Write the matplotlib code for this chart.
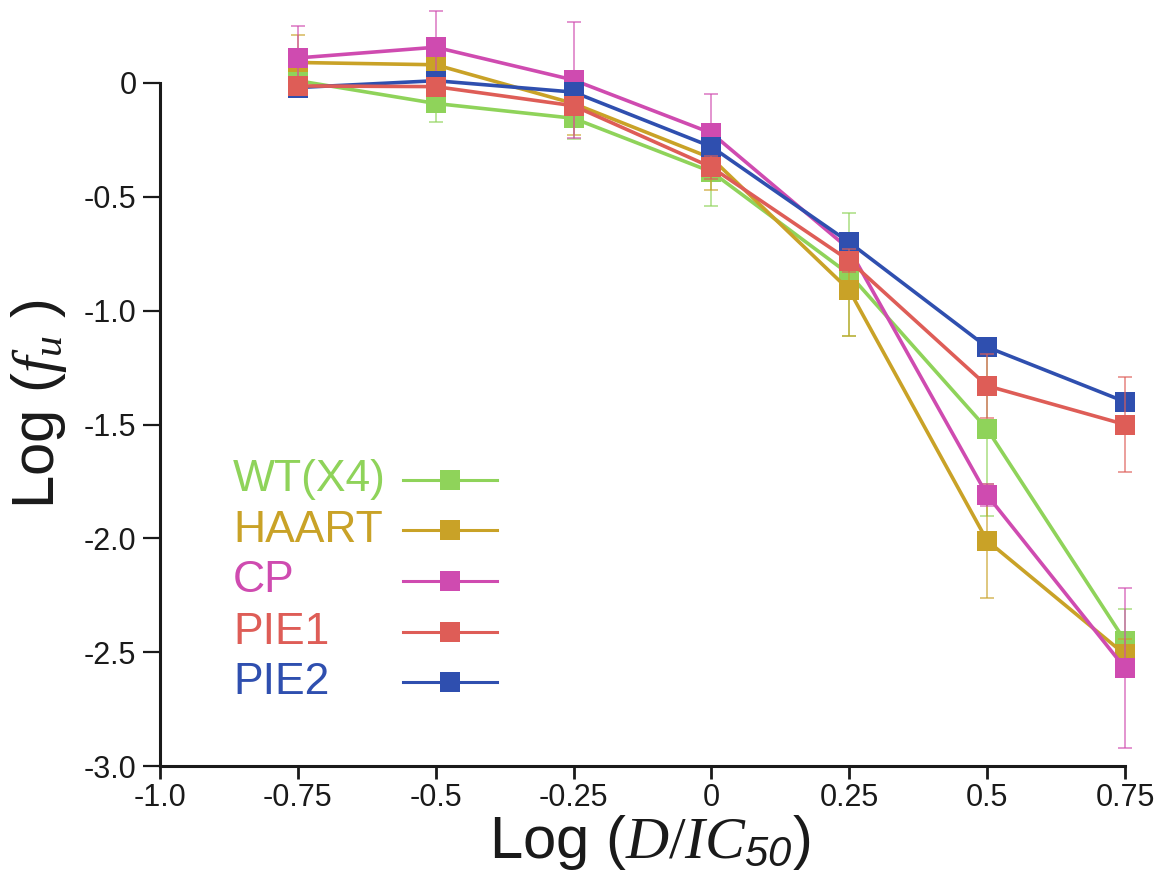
import matplotlib
matplotlib.use("Agg")
import matplotlib.pyplot as plt

plt.rcParams['font.family'] = ['Liberation Sans', 'DejaVu Sans']
plt.rcParams['mathtext.fontset'] = 'custom'
plt.rcParams['mathtext.it'] = 'Liberation Serif:italic'
plt.rcParams['mathtext.rm'] = 'Liberation Serif'
plt.rcParams['mathtext.sf'] = 'Liberation Sans:italic'
plt.rcParams['axes.unicode_minus'] = False

# Dose levels, log(D/IC50)
log_dose = [-0.75, -0.5, -0.25, 0.0, 0.25, 0.5, 0.75]

# Mean log fraction unaffected for each strain
wt_x4 = [0.01, -0.09, -0.155, -0.39, -0.84, -1.52, -2.45]
haart = [0.09, 0.08, -0.09, -0.33, -0.91, -2.01, -2.51]
cp = [0.11, 0.157, 0.013, -0.22, -0.73, -1.81, -2.57]
pie1 = [-0.013, -0.016, -0.10, -0.37, -0.78, -1.33, -1.50]
pie2 = [-0.02, 0.01, -0.04, -0.28, -0.70, -1.16, -1.40]

# Standard deviations
wt_x4_err = [0.04, 0.08, 0.09, 0.15, 0.27, 0.38, 0.14]
haart_err = [0.12, 0.05, 0.14, 0.14, 0.20, 0.25, 0.07]
cp_err = [0.14, 0.16, 0.256, 0.17, 0.05, 0.05, 0.35]
pie1_err = [0.03, 0.03, 0.04, 0.05, 0.05, 0.14, 0.21]
pie2_err = [0.03, 0.03, 0.03, 0.04, 0.04, 0.03, 0.03]

names = ["WT(X4)", "HAART", "CP", "PIE1", "PIE2"]
colors = ["#8FD35A", "#C9A227", "#CF4BB0", "#DE5D57", "#2F4FAF"]
series = [wt_x4, haart, cp, pie1, pie2]
errors = [wt_x4_err, haart_err, cp_err, pie1_err, pie2_err]

x_ticks = [-1.0, -0.75, -0.5, -0.25, 0.0, 0.25, 0.5, 0.75]
x_ticklabels = ["-1.0", "-0.75", "-0.5", "-0.25", "0", "0.25", "0.5", "0.75"]
y_ticks = [0.0, -0.5, -1.0, -1.5, -2.0, -2.5, -3.0]
y_ticklabels = ["0", "-0.5", "-1.0", "-1.5", "-2.0", "-2.5", "-3.0"]

fig = plt.figure(figsize=(11.57, 8.90), dpi=100)
ax = fig.add_axes([0.1383, 0.1393, 0.834, 0.857])

# drawing order: later series sit on top
draw_order = [0, 1, 2, 4, 3]
for k, i in enumerate(draw_order):
    z = 3 + k
    ax.plot(log_dose, series[i], color=colors[i], lw=2.6, marker='s',
            markersize=14, markeredgewidth=0, zorder=z, clip_on=False)
    ax.errorbar(log_dose, series[i], yerr=errors[i], fmt='none',
                ecolor=colors[i], elinewidth=1.4, capsize=5, capthick=1.4,
                alpha=0.6, zorder=z + 0.5, clip_on=False)

ax.set_xlim(-1.0, 0.75)
ax.set_ylim(-3.0, 0.35)
ax.spines['top'].set_visible(False)
ax.spines['right'].set_visible(False)
ax.spines['left'].set_bounds(-3.0, 0.0)
for s in ('left', 'bottom'):
    ax.spines[s].set_linewidth(2.2)
    ax.spines[s].set_color('#1a1a1a')

ax.set_xticks(x_ticks)
ax.set_xticklabels(x_ticklabels)
ax.set_yticks(y_ticks)
ax.set_yticklabels(y_ticklabels)
ax.tick_params(axis='x', direction='out', length=9, width=2.0, pad=3,
               labelsize=22, colors='#1a1a1a')
ax.tick_params(axis='y', direction='out', length=12, width=1.6, pad=5,
               labelsize=22, colors='#1a1a1a')

ax.set_xlabel(r"Log ($D/IC_{\mathsf{50}}$)", fontsize=43, color='#1a1a1a')
ax.xaxis.set_label_coords(0.508, -0.062)
ax.set_ylabel(r"Log ($f_u$ )", fontsize=43, color='#1a1a1a')
ax.yaxis.set_label_coords(-0.094, 0.475)

# key: coloured names with a line-and-square sample beside each
row_y = [0.375, 0.309, 0.2426, 0.1757, 0.110]
for i, name in enumerate(names):
    ax.text(0.0756, row_y[i], name, transform=ax.transAxes, color=colors[i],
            fontsize=32, va='center', ha='left')
    ax.plot([0.252, 0.3005, 0.349], [row_y[i]] * 3, transform=ax.transAxes,
            color=colors[i], lw=2.2, marker='s', markersize=14,
            markeredgewidth=0, markevery=[1], clip_on=False)

fig.savefig("out.png", dpi=100, facecolor='white')
